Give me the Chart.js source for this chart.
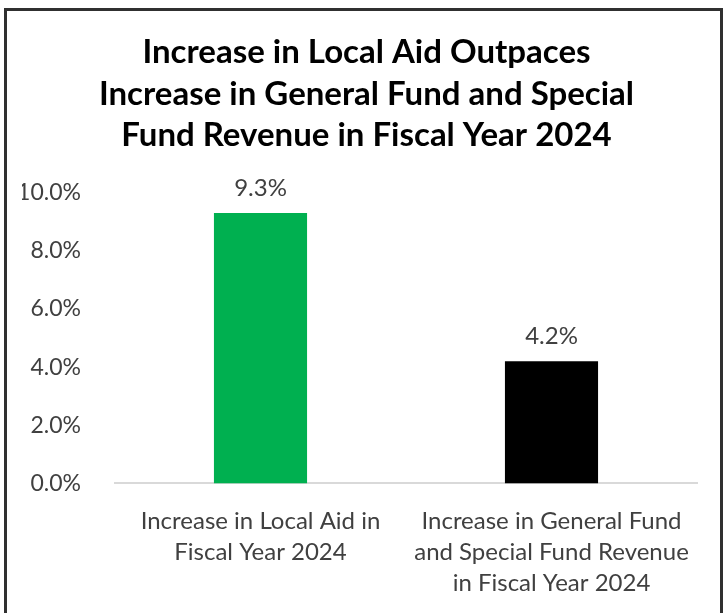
<!DOCTYPE html>
<html>
<head>
<meta charset="utf-8">
<script src="https://cdn.jsdelivr.net/npm/chart.js@4.4.1/dist/chart.umd.min.js"></script>
<style>
  html, body { margin: 0; padding: 0; background: #fff; }
  #wrap { position: relative; width: 727px; height: 613px; overflow: hidden; }
  #frame {
    position: absolute; left: 4px; top: 8px; width: 719px; height: 640px;
    border: 3px solid #303030; box-sizing: border-box;
  }
  #chart { position: absolute; left: 0; top: 0; }
</style>
</head>
<body>
<div id="wrap">
  <div id="frame"></div>
  <canvas id="chart" width="727" height="613"></canvas>
</div>
<script>
// chart values
const categories = [
  ["Increase in Local Aid in", "Fiscal Year 2024"],
  ["Increase in General Fund", "and Special Fund Revenue", "in Fiscal Year 2024"],
];
const increasePct = [9.3, 4.2];
const barColors = ["#00b050", "#000000"];
const titleLines = [
  "Increase in Local Aid Outpaces",
  "Increase in General Fund and Special",
  "Fund Revenue in Fiscal Year 2024",
];
const yTicks = [0, 2, 4, 6, 8, 10];

const FONT = "Lato, 'Open Sans', sans-serif";

// draws the % value above each bar
const valueLabels = {
  id: "valueLabels",
  afterDatasetsDraw(chart) {
    const ctx = chart.ctx;
    const meta = chart.getDatasetMeta(0);
    ctx.save();
    ctx.font = "24px " + FONT;
    ctx.fillStyle = "#404040";
    ctx.textAlign = "center";
    ctx.textBaseline = "middle";
    meta.data.forEach((bar, i) => {
      ctx.fillText(increasePct[i].toFixed(1) + "%", bar.x, bar.y - 25);
    });
    ctx.restore();
  },
};

// title in the original sits a bit right of the axis+plot centre
const titleShift = {
  id: "titleShift",
  afterLayout(chart) {
    if (chart.titleBlock) {
      chart.titleBlock.left += 7;
      chart.titleBlock.right += 7;
    }
  },
};

new Chart(document.getElementById("chart"), {
  type: "bar",
  data: {
    labels: categories,
    datasets: [
      {
        data: increasePct,
        backgroundColor: barColors,
        categoryPercentage: 1,
        barPercentage: 0.32,
      },
    ],
  },
  options: {
    responsive: false,
    animation: false,
    layout: { padding: { left: 22, right: 30, top: 32, bottom: 0 } },
    plugins: {
      legend: { display: false },
      tooltip: { enabled: false },
      title: {
        display: true,
        text: titleLines,
        color: "#000",
        font: { family: FONT, size: 33, weight: "bold", lineHeight: 1.25 },
        padding: { top: 0, bottom: 37 },
      },
    },
    scales: {
      x: {
        grid: { display: false },
        border: { display: true, color: "#d9d9d9", width: 2 },
        ticks: {
          color: "#404040",
          font: { family: FONT, size: 24, lineHeight: 1.3 },
          padding: 14,
          maxRotation: 0,
        },
      },
      y: {
        min: 0,
        max: 10,
        afterBuildTicks: (axis) => {
          axis.ticks = yTicks.map((v) => ({ value: v }));
        },
        afterFit: (axis) => {
          axis.width = 93;
        },
        grid: { display: false },
        border: { display: false },
        ticks: {
          color: "#404040",
          font: { family: FONT, size: 23 },
          padding: 26,
          callback: (v) => v.toFixed(1) + "%",
        },
      },
    },
  },
  plugins: [valueLabels, titleShift],
});
</script>
</body>
</html>
